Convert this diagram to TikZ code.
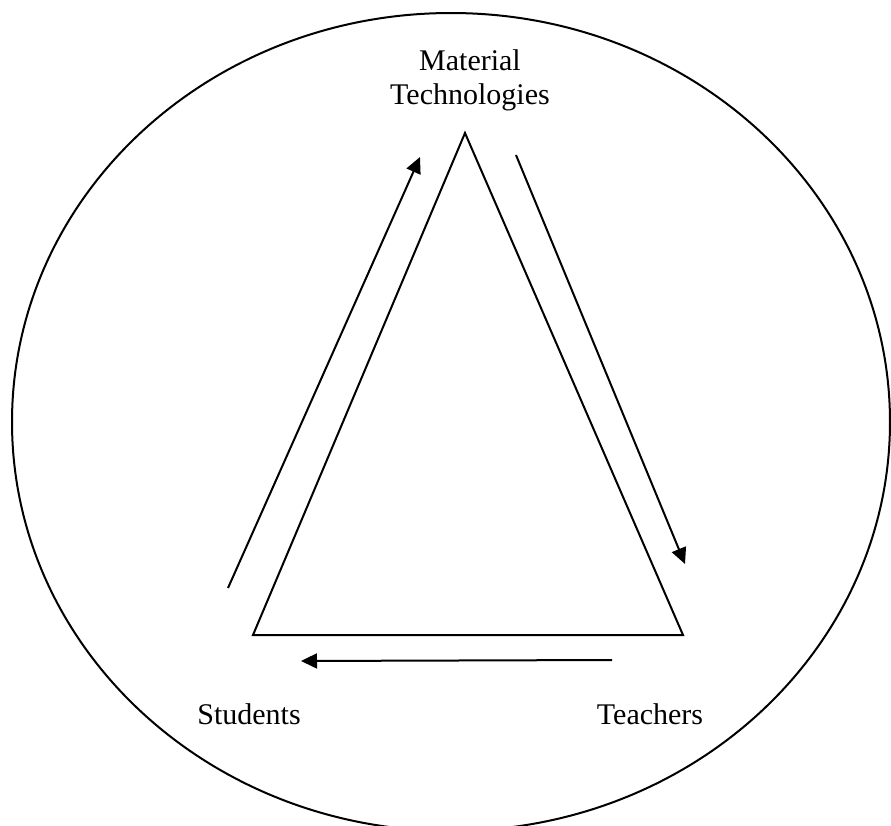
\documentclass[tikz,border=0pt]{standalone}
\usepackage{fontspec}
\setmainfont{Liberation Serif}
\usetikzlibrary{arrows.meta,positioning}
\tikzset{
  outline/.style={draw=black, line width=1pt},
  lbl/.style={font=\fontsize{15}{17}\selectfont, align=center, inner sep=0pt},
  flow/.style={draw=black, line width=1pt, -{Triangle[length=8pt, width=7.5pt]}}
}
\begin{document}
\begin{tikzpicture}[x=0.5pt, y=-0.5pt]
    \useasboundingbox (0,0) rectangle (891,826);
    \clip (0,0) rectangle (891,826);
    % circle round the whole
    \draw[outline] (451,422) ellipse [x radius=439, y radius=409];

    % triangle
    \coordinate (apex) at (465,133);
    \coordinate (sl) at (253,635);
    \coordinate (tr) at (683,635);
    \draw[outline, line join=miter] (apex) -- (sl) -- (tr) -- cycle;

    % labels
    \node[lbl] (mat) at (470,80) {Material\\Technologies};
    \node[lbl] (stu) at (249,714) {Students};
    \node[lbl] (tea) at (650,714) {Teachers};

    % arrows
    \coordinate (a1) at (228,588);
    \coordinate (b1) at (420,157);
    \coordinate (a2) at (516,155);
    \coordinate (b2) at (685,564);
    \coordinate (a3) at (612,660);
    \coordinate (b3) at (301,661);
    \draw[flow] (a1) -- (b1);
    \draw[flow] (a2) -- (b2);
    \draw[flow] (a3) -- (b3);
  \end{tikzpicture}
\end{document}
